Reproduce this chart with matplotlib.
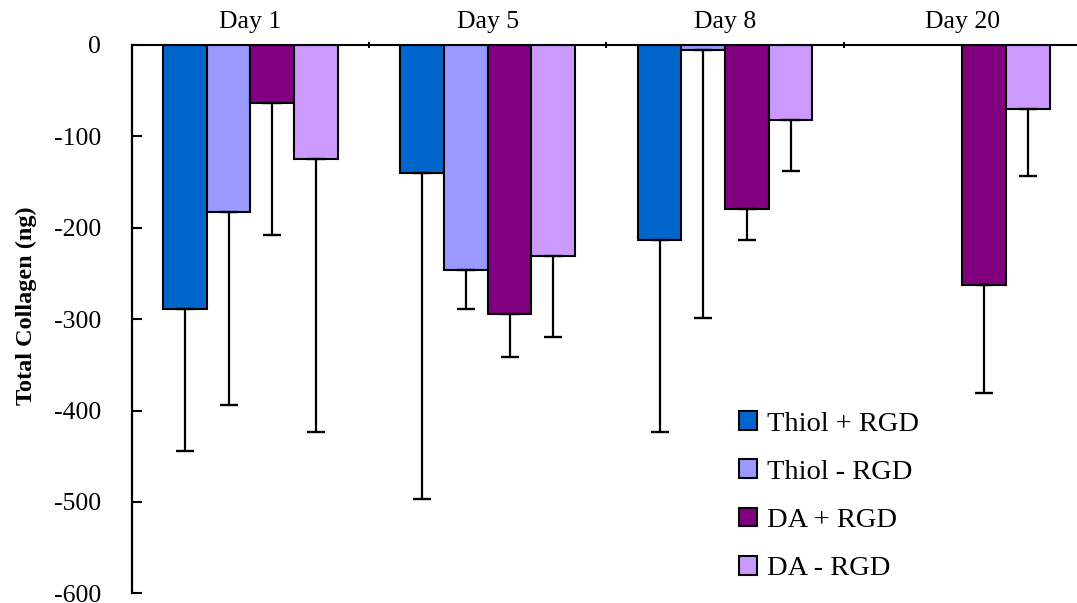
import numpy as np
import matplotlib
matplotlib.use("Agg")
import matplotlib.pyplot as plt

days = ["Day 1", "Day 5", "Day 8", "Day 20"]
series = ["Thiol + RGD", "Thiol - RGD", "DA + RGD", "DA - RGD"]
colors = ["#0066CC", "#9999FF", "#800080", "#CC99FF"]

thiol_pos = [-289, -140, -213, np.nan]
thiol_pos_err = [155, 357, 211, np.nan]
thiol_neg = [-183, -246, -5, np.nan]
thiol_neg_err = [211, 43, 294, np.nan]
da_pos = [-63, -294, -179, -263]
da_pos_err = [145, 47, 34, 118]
da_neg = [-125, -231, -82, -70]
da_neg_err = [299, 88, 56, 73]

values = [thiol_pos, thiol_neg, da_pos, da_neg]
errors = [thiol_pos_err, thiol_neg_err, da_pos_err, da_neg_err]
yticks = [0, -100, -200, -300, -400, -500, -600]

plt.rcParams["font.family"] = ["Liberation Serif", "DejaVu Serif"]
plt.rcParams["axes.unicode_minus"] = False

fig = plt.figure(figsize=(10.77, 6.03), dpi=100)
ax = fig.add_axes([0.1223, 0.0161, 0.8814, 0.9093])

x = np.arange(len(days))
w = 0.184
for i, (vals, errs) in enumerate(zip(values, errors)):
    xpos = x + (i - 1.5) * w
    ax.bar(xpos, vals, width=w, color=colors[i], edgecolor="black",
           linewidth=1.5, label=series[i], zorder=2)
    ax.errorbar(xpos, vals, yerr=[errs, np.zeros(len(errs))], fmt="none",
                ecolor="black", elinewidth=1.6, capsize=6.5, capthick=1.7,
                zorder=3)

ax.set_xlim(-0.5, 3.5)
ax.set_ylim(-600, 0)
ax.set_yticks(yticks)
ax.set_yticklabels([str(v) for v in yticks])

ax.spines["right"].set_visible(False)
ax.spines["bottom"].set_visible(False)
ax.spines["left"].set_linewidth(1.6)
ax.spines["top"].set_linewidth(1.5)

ax.xaxis.tick_top()
ax.set_xticks(x)
ax.set_xticklabels(days)
ax.set_xticks([0.5, 1.5, 2.5], minor=True)
ax.tick_params(axis="x", which="major", length=0, pad=8.5, labelsize=18.5)
ax.tick_params(axis="x", which="minor", direction="inout", length=4, width=1.5)
ax.tick_params(axis="y", direction="in", length=7, width=1.5, pad=22,
               labelsize=18.5)

ax.set_ylabel("Total Collagen (ng)", fontsize=17.5, fontweight="bold")
ax.yaxis.set_label_coords(-0.1, 0.525)

ax.legend(loc="upper left", bbox_to_anchor=(0.686, 0.318),
          bbox_transform=fig.transFigure, frameon=False, fontsize=20.5,
          handlelength=0.64, handleheight=0.64, handletextpad=0.35,
          labelspacing=0.8, borderpad=0, borderaxespad=0)

fig.savefig("out.png", dpi=100)
